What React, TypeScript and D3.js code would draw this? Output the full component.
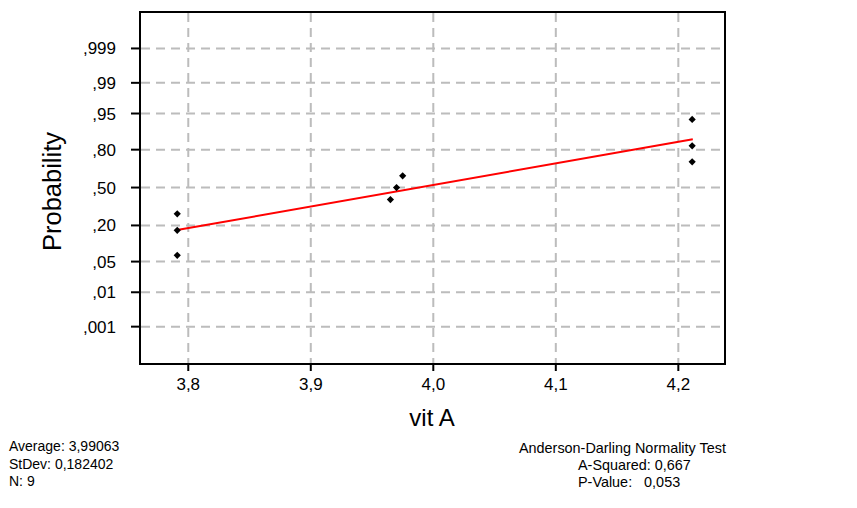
import React, { useEffect, useRef } from "react";
import * as d3 from "d3";

// observations (vit A) and their plotted probabilities
const vitA = [3.791, 3.791, 3.791, 3.965, 3.97, 3.975, 4.2113, 4.2113, 4.2113];
const probs = [0.066, 0.171, 0.28, 0.395, 0.5, 0.603, 0.716, 0.823, 0.935];

// fitted line end points
const fitX = [3.7897, 4.2118];
const fitP = [0.171, 0.858];

const xTicks = [3.8, 3.9, 4.0, 4.1, 4.2];
const yTickValues = [0.999, 0.99, 0.95, 0.8, 0.5, 0.2, 0.05, 0.01, 0.001];
const yTickLabels = [",999", ",99", ",95", ",80", ",50", ",20", ",05", ",01", ",001"];

const statsLeft = ["Average: 3,99063", "StDev: 0,182402", "N: 9"];
const statsRight = ["Anderson-Darling Normality Test", "A-Squared: 0,667", "P-Value:   0,053"];

// inverse normal cdf (Acklam), used for the probability axis transform
function probit(p: number) {
  const a = [-3.969683028665376e1, 2.209460984245205e2, -2.759285104469687e2, 1.38357751867269e2, -3.066479806614716e1, 2.506628277459239];
  const b = [-5.447609879822406e1, 1.615858368580409e2, -1.556989798598866e2, 6.680131188771972e1, -1.328068155288572e1];
  const c = [-7.784894002430293e-3, -3.223964580411365e-1, -2.400758277161838, -2.549732539343734, 4.374664141464968, 2.938163982698783];
  const d = [7.784695709041462e-3, 3.224671290700398e-1, 2.445134137142996, 3.754408661907416];
  const pl = 0.02425;
  let q, r;
  if (p < pl) {
    q = Math.sqrt(-2 * Math.log(p));
    return (((((c[0] * q + c[1]) * q + c[2]) * q + c[3]) * q + c[4]) * q + c[5]) / ((((d[0] * q + d[1]) * q + d[2]) * q + d[3]) * q + 1);
  }
  if (p > 1 - pl) {
    q = Math.sqrt(-2 * Math.log(1 - p));
    return -(((((c[0] * q + c[1]) * q + c[2]) * q + c[3]) * q + c[4]) * q + c[5]) / ((((d[0] * q + d[1]) * q + d[2]) * q + d[3]) * q + 1);
  }
  q = p - 0.5;
  r = q * q;
  return ((((((a[0] * r + a[1]) * r + a[2]) * r + a[3]) * r + a[4]) * r + a[5]) * q) / (((((b[0] * r + b[1]) * r + b[2]) * r + b[3]) * r + b[4]) * r + 1);
}

const W = 857;
const H = 508;
const FONT = "'Liberation Sans', Arial, sans-serif";

const App = () => {
  const svgRef = useRef(null);

  useEffect(() => {
    const svg = d3.select(svgRef.current);
    svg.selectAll("*").remove();

    const left = 140, right = 725, top = 12, bottom = 364;

    const x = d3.scaleLinear().domain([3.7606, 4.2381]).range([left, right]);
    const z = d3.scaleLinear().domain([-3.92, 3.9]).range([bottom, top]);
    const y = (p: number) => z(probit(p));

    svg.append("rect").attr("width", W).attr("height", H).attr("fill", "white");

    // grid
    const grid = svg.append("g").attr("stroke", "#bcbcbc").attr("stroke-width", 2).attr("stroke-dasharray", "9,6");
    yTickValues.forEach((p) => {
      grid.append("line").attr("x1", left + 1).attr("x2", right).attr("y1", y(p)).attr("y2", y(p));
    });
    xTicks.forEach((v) => {
      grid.append("line").attr("x1", x(v)).attr("x2", x(v)).attr("y1", top + 1).attr("y2", bottom);
    });

    // frame
    svg
      .append("rect")
      .attr("x", left)
      .attr("y", top)
      .attr("width", right - left)
      .attr("height", bottom - top)
      .attr("fill", "none")
      .attr("stroke", "black")
      .attr("stroke-width", 2);

    // y ticks and labels
    yTickValues.forEach((p, i) => {
      svg.append("line").attr("x1", left - 9).attr("x2", left).attr("y1", y(p)).attr("y2", y(p)).attr("stroke", "black").attr("stroke-width", 2);
      svg
        .append("text")
        .attr("x", 116)
        .attr("y", y(p) + 6)
        .attr("text-anchor", "end")
        .attr("font-family", FONT)
        .attr("font-size", 17)
        .text(yTickLabels[i]);
    });

    // x ticks and labels
    xTicks.forEach((v) => {
      svg.append("line").attr("x1", x(v)).attr("x2", x(v)).attr("y1", bottom).attr("y2", bottom + 7).attr("stroke", "black").attr("stroke-width", 2);
      svg
        .append("text")
        .attr("x", x(v))
        .attr("y", 390)
        .attr("text-anchor", "middle")
        .attr("font-family", FONT)
        .attr("font-size", 17)
        .text(d3.format(".1f")(v).replace(".", ","));
    });

    // axis titles
    svg
      .append("text")
      .attr("x", 432)
      .attr("y", 426)
      .attr("text-anchor", "middle")
      .attr("font-family", FONT)
      .attr("font-size", 24)
      .text("vit A");
    svg
      .append("text")
      .attr("transform", "translate(60.5,191.5) rotate(-90)")
      .attr("text-anchor", "middle")
      .attr("font-family", FONT)
      .attr("font-size", 25.5)
      .text("Probability");

    // fitted line
    const line = d3
      .line<number>()
      .x((d) => x(d))
      .y((_, i) => y(fitP[i]));
    svg.append("path").datum(fitX).attr("d", line).attr("fill", "none").attr("stroke", "#ff0000").attr("stroke-width", 2);

    // points
    const diamond = d3.symbol().type(d3.symbolSquare).size(26);
    svg
      .append("g")
      .selectAll("path")
      .data(vitA)
      .join("path")
      .attr("d", diamond)
      .attr("transform", (d, i) => `translate(${x(d)},${y(probs[i])}) rotate(45)`)
      .attr("fill", "black");

    // stats text
    statsLeft.forEach((t, i) => {
      svg
        .append("text")
        .attr("x", 9)
        .attr("y", 451 + i * 17.5)
        .attr("font-family", FONT)
        .attr("font-size", 14)
        .text(t);
    });
    const rightX = [519, 578, 578];
    statsRight.forEach((t, i) => {
      svg
        .append("text")
        .attr("x", rightX[i])
        .attr("y", 452.5 + i * 17.3)
        .attr("font-family", FONT)
        .attr("font-size", 14.4)
        .style("white-space", "pre")
        .text(t);
    });
  }, []);

  return (
    <svg
      ref={svgRef}
      width={W}
      height={H}
      style={{ position: "absolute", left: 0, top: 0, display: "block" }}
    ></svg>
  );
};

export default App;
